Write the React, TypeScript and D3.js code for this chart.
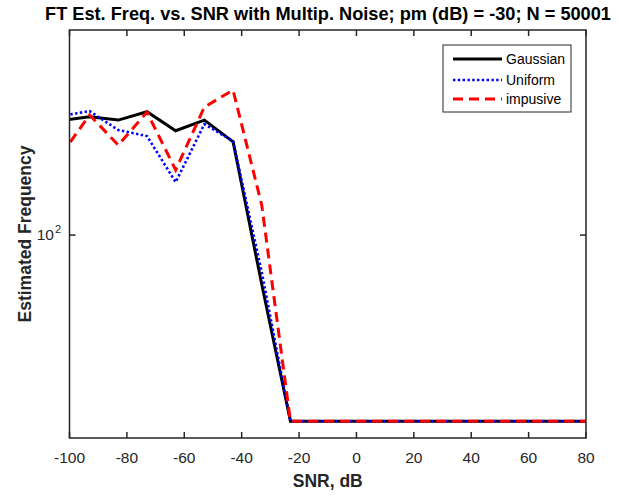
import React from "react";
import * as d3 from "d3";

const snr = [-103, -93, -83, -73, -63, -53, -43, -33, -23, -13, -3, 7, 17, 27, 37, 47, 57, 67, 77, 87];
const gaussian = [105.46, 105.65, 105.49, 105.9, 104.97, 105.49, 104.43, 97.74, 91.71, 91.71, 91.71, 91.71, 91.71, 91.71, 91.71, 91.71, 91.71, 91.71, 91.71, 91.71];
const uniform = [105.69, 105.93, 105.0, 104.71, 102.49, 105.29, 104.47, 98.29, 91.71, 91.71, 91.71, 91.71, 91.71, 91.71, 91.71, 91.71, 91.71, 91.71, 91.71, 91.71];
const impulsive = [103.79, 105.74, 104.27, 105.88, 103.07, 106.13, 106.97, 101.4, 91.71, 91.71, 91.71, 91.71, 91.71, 91.71, 91.71, 91.71, 91.71, 91.71, 91.71, 91.71];
const xTicks = [-100, -80, -60, -40, -20, 0, 20, 40, 60, 80];
const yTicks = [100];
const seriesNames = ["Gaussian", "Uniform", "impusive"];

const W = 622, H = 495;
const L = 69.5, R = 586, T = 30, B = 438;
const axisColor = "#262626";
const font = "'Liberation Sans', Arial, Helvetica, sans-serif";

export default function App() {
  const x = d3.scaleLinear().domain([-100, 80]).range([L, R]);
  const y = d3.scaleLog().domain([91, 110]).range([B, T]);
  const mk = (vals: number[]) =>
    d3.line<number>().x((_, i) => x(snr[i])).y((v) => y(v))(vals) || "";

  const styles = [
    { color: "#000000", width: 3, dash: undefined as string | undefined },
    { color: "#0000ff", width: 2.6, dash: "2.4 2.4" },
    { color: "#ff0000", width: 3, dash: "10 6" },
  ];
  const data = [gaussian, uniform, impulsive];

  const legX = 443, legY = 45, legW = 128, legH = 67;
  const rowYs = [59, 80, 99];

  return (
    <svg width={W} height={H} style={{ position: "absolute", left: 0, top: 0, background: "#fff" }} fontFamily={font}>
      <defs>
        <clipPath id="plotclip">
          <rect x={L} y={T} width={R - L} height={B - T} />
        </clipPath>
      </defs>
      <rect x={0} y={0} width={W} height={H} fill="#fff" />
      <text x={328} y={20} textAnchor="middle" fontWeight="bold" fontSize={18.2} fill="#000">
        FT Est. Freq. vs. SNR with Multip. Noise; pm (dB) = -30; N = 50001
      </text>

      <g clipPath="url(#plotclip)">
        {data.map((vals, i) => (
          <path key={i} d={mk(vals)} fill="none" stroke={styles[i].color} strokeWidth={styles[i].width}
            strokeDasharray={styles[i].dash} strokeLinejoin="miter" />
        ))}
      </g>

      {/* axes box */}
      <rect x={L} y={T} width={R - L} height={B - T} fill="none" stroke={axisColor} strokeWidth={1.5} />
      {xTicks.map((t) => (
        <g key={t}>
          <line x1={x(t)} x2={x(t)} y1={B} y2={B - 6} stroke={axisColor} strokeWidth={1.5} />
          <line x1={x(t)} x2={x(t)} y1={T} y2={T + 6} stroke={axisColor} strokeWidth={1.5} />
          <text x={x(t)} y={463} textAnchor="middle" fontSize={15.5} fill={axisColor}>{t}</text>
        </g>
      ))}
      {yTicks.map((t) => (
        <g key={t}>
          <line x1={L} x2={L + 6} y1={y(t)} y2={y(t)} stroke={axisColor} strokeWidth={1.5} />
          <line x1={R} x2={R - 6} y1={y(t)} y2={y(t)} stroke={axisColor} strokeWidth={1.5} />
          <text x={54} y={y(t) + 5} textAnchor="end" fontSize={15.5} fill={axisColor}>10</text>
          <text x={55} y={y(t) - 2} textAnchor="start" fontSize={11} fill={axisColor}>2</text>
        </g>
      ))}

      <text x={(L + R) / 2} y={487} textAnchor="middle" fontWeight="bold" fontSize={17.5} fill={axisColor}>SNR, dB</text>
      <text transform={`translate(31, ${(T + B) / 2}) rotate(-90)`} textAnchor="middle" fontWeight="bold" fontSize={17.5} fill={axisColor}>
        Estimated Frequency
      </text>

      {/* legend */}
      <rect x={legX} y={legY} width={legW} height={legH} fill="#fff" stroke={axisColor} strokeWidth={1} />
      {seriesNames.map((n, i) => (
        <g key={n}>
          <line x1={453} x2={502} y1={rowYs[i]} y2={rowYs[i]} stroke={styles[i].color} strokeWidth={styles[i].width}
            strokeDasharray={styles[i].dash} />
          <text x={506} y={rowYs[i] + 5} fontSize={14} fill="#000">{n}</text>
        </g>
      ))}
    </svg>
  );
}
